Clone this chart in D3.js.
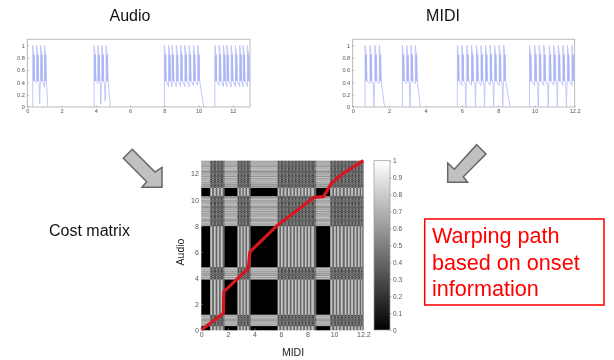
<!DOCTYPE html>
<html><head><meta charset="utf-8">
<script src="https://cdnjs.cloudflare.com/ajax/libs/d3/7.8.5/d3.min.js"></script>
<style>
html,body{margin:0;padding:0;background:#fff;overflow:hidden}
svg{display:block;font-family:"Liberation Sans",Arial,sans-serif}
.soft{filter:blur(0.6px)}
.wave{filter:blur(0.6px)}
.softer{filter:blur(0.3px)}
.axis path,.axis line{stroke:#999;stroke-width:.7}
.axis text{fill:#555}
</style></head><body>
<svg id="c" width="614" height="360"></svg>
<script>
// Note onsets per phrase; last number of each phrase is where it ends
const audioPhrases = [
  [0.32,0.55,0.78,1.0,1.2],
  [3.9,4.12,4.35,4.6,4.85],
  [8.0,8.25,8.45,8.7,8.95,9.2,9.45,9.7,9.95,10.3],
  [10.95,11.2,11.45,11.65,11.9,12.15,12.4,12.6,12.85,13.0]
];
const audioFloors = [
  [0.4,0.05,0.32,0],
  [0.38,0.05,0.1,0],
  [0.33,0.33,0.33,0.33,0.33,0.33,0.35,0.35,0],
  [0.35,0.33,0.33,0.33,0.33,0.33,0.33,0.33,0.4]
];
const midiPhrases = [
  [0.68,0.95,1.22,1.46,1.75],
  [2.73,2.97,3.2,3.44,3.72],
  [5.75,6.0,6.27,6.53,6.8,7.05,7.3,7.55,7.8,8.05,8.3,8.65],
  [9.72,10.0,10.25,10.5,10.8,11.05,11.3,11.55,11.8,12.05,12.2]
];
const midiFloors = [
  [0.38,0,0.38,0],
  [0.38,0,0.38,0],
  [0.35,0,0.35,0,0.35,0,0.35,0,0.35,0,0],
  [0.35,0,0.35,0,0.35,0,0.35,0,0.35,0.4]
];
const noteTop = 1, noteBand = 0.85, noteMid = 0.42;
const audioStripe = [0.6,0.76,0.54,0.68];
const midiStripe = [0.76,0.4];
const overlapCost = 0.18;
const warpMidi =  [0,1.66,1.7,3.54,3.66,5.67,8.48,9.2,9.8,10.7,12.2];
const warpAudio = [0,1.28,2.94,4.73,6.0,7.98,10.18,10.24,11.26,12.03,13];
const audioDomain = 13, midiDomain = 12.2;
const plotTicksX = [0,2,4,6,8,10,12];
const midiTicksX = [0,2,4,6,8,10,12.2];
const levelTicks = [0,0.2,0.4,0.6,0.8,1];
const matrixTicksY = [0,2,4,6,8,10,12];
const barTicks = [0,0.1,0.2,0.3,0.4,0.5,0.6,0.7,0.8,0.9,1];

const svg = d3.select("#c");

function waveform(phrases, floors, maxX, left, right, ticks){
  const x = d3.scaleLinear([0,maxX],[left,right]);
  const y = d3.scaleLinear([0,1.1],[107,39.2]);
  const g = svg.append("g").attr("class","wave");
  g.append("rect").attr("x",left).attr("y",39.2).attr("width",right-left).attr("height",67.8)
    .attr("fill","none").attr("stroke","#aaa").attr("stroke-width",.8);
  const line = d3.line().x(d=>x(d[0])).y(d=>y(d[1]));
  const d = maxX/222; // one pixel in data units, for the width of a note's band
  phrases.forEach((p,pi)=>{
    const outer=[[p[0],0]], band=[];
    const last=floors[pi].length-1;
    floors[pi].forEach((f,i)=>{
      const t=p[i], n=p[i+1];
      outer.push([t,noteTop],[t+d,noteBand],[t+2*d,noteMid]);
      if(i<last && f<0.3) outer.push([n-1.5*d,noteMid-0.06],[n-d,f],[n-0.5*d,noteMid-0.06]);
      else outer.push([n,f]);
      if(i<last) outer.push([n,noteMid]);
      band.push([[t+d,noteBand],[t+d,noteMid]]);
    });
    g.append("path").attr("d",line(outer)).attr("fill","none")
      .attr("stroke","#c0c7f8").attr("stroke-width",1);
    band.forEach(b=>g.append("path").attr("d",line(b)).attr("fill","none")
      .attr("stroke","#aab4f6").attr("stroke-width",1.9));
  });
  const ax=g.append("g").attr("class","axis").attr("transform","translate(0,107)")
    .call(d3.axisBottom(x).tickValues(ticks).tickFormat(v=>v).tickSize(-1.5).tickPadding(2.5));
  ax.select(".domain").remove();
  ax.selectAll("text").attr("font-size",5.6);
  const ay=g.append("g").attr("class","axis").attr("transform",`translate(${left},0)`)
    .call(d3.axisLeft(y).tickValues(levelTicks).tickFormat(v=>v).tickSize(-1.5).tickPadding(2.5));
  ay.select(".domain").remove();
  ay.selectAll("text").attr("font-size",5.6);
}
waveform(audioPhrases,audioFloors,audioDomain,27.3,250,plotTicksX);
waveform(midiPhrases,midiFloors,midiDomain,352.7,574.7,midiTicksX);

// Band profile of a track: silence is 0, each note carries stripes of the given levels
function bands(phrases, stripe, maxT, shift){
  const out=[]; let cur=0, c=0;
  phrases.forEach(p=>{
    if(p[0]>cur) out.push({a:cur,b:p[0],v:0});
    for(let i=0;i<p.length-1;i++){
      const w=(p[i+1]-p[i])/stripe.length;
      stripe.forEach((_,k)=>out.push({a:p[i]+k*w,b:p[i]+(k+1)*w,v:stripe[(k+c*shift)%stripe.length]}));
      c++;
    }
    cur=p[p.length-1];
  });
  if(cur<maxT) out.push({a:cur,b:maxT,v:0});
  return out;
}
const rows=bands(audioPhrases,audioStripe,audioDomain,1);
const cols=bands(midiPhrases,midiStripe,midiDomain,0);

const mx=d3.scaleLinear([0,midiDomain],[201.3,363.3]);
const my=d3.scaleLinear([0,audioDomain],[330,160.7]);
const gray=d3.scaleLinear([0,1],["#000","#fff"]);
const m=svg.append("g").attr("class","soft");
m.selectAll("g.r").data(rows).join("g").attr("class","r").each(function(r){
  d3.select(this).selectAll("rect").data(cols).join("rect")
    .attr("x",c=>mx(c.a)).attr("width",c=>mx(c.b)-mx(c.a)+.3)
    .attr("y",my(r.b)).attr("height",my(r.a)-my(r.b)+.3)
    .attr("fill",c=>gray(Math.abs(r.v-c.v)+(r.v&&c.v?overlapCost:0)));
});
m.append("path").datum(d3.zip(warpMidi,warpAudio))
  .attr("d",d3.line().x(d=>mx(d[0])).y(d=>my(d[1])))
  .attr("fill","none").attr("stroke","#d8161f").attr("stroke-width",3.2).attr("stroke-linejoin","round");

const ga=svg.append("g").attr("class","soft");
const xa=ga.append("g").attr("class","axis").attr("transform","translate(0,330)")
  .call(d3.axisBottom(mx).tickValues(midiTicksX).tickFormat(v=>v).tickSize(-1.5).tickPadding(2.5));
xa.select(".domain").remove(); xa.selectAll("text").attr("font-size",7);
const ya=ga.append("g").attr("class","axis").attr("transform","translate(201.3,0)")
  .call(d3.axisLeft(my).tickValues(matrixTicksY).tickFormat(v=>v).tickSize(-1.5).tickPadding(2.5));
ya.select(".domain").remove(); ya.selectAll("text").attr("font-size",7);
ga.append("text").attr("x",293).attr("y",356).attr("text-anchor","middle").attr("font-size",10.5).attr("fill","#222").text("MIDI");
ga.append("text").attr("transform","translate(184,252) rotate(-90)").attr("text-anchor","middle").attr("font-size",10.5).attr("fill","#222").text("Audio");

// Colour bar
const by=d3.scaleLinear([0,1],[330,160.7]);
const defs=svg.append("defs");
const lg=defs.append("linearGradient").attr("id","gb").attr("x1",0).attr("y1",1).attr("x2",0).attr("y2",0);
lg.append("stop").attr("offset",0).attr("stop-color","#000");
lg.append("stop").attr("offset",1).attr("stop-color","#fff");
const cb=svg.append("g").attr("class","soft");
cb.append("rect").attr("x",374).attr("y",by(1)).attr("width",16).attr("height",by(0)-by(1))
  .attr("fill","url(#gb)").attr("stroke","#999").attr("stroke-width",.7);
const bax=cb.append("g").attr("class","axis").attr("transform","translate(390,0)")
  .call(d3.axisRight(by).tickValues(barTicks).tickFormat(v=>v).tickSize(1.5).tickPadding(1.5));
bax.select(".domain").remove(); bax.selectAll("text").attr("font-size",6.6);

// Arrows
const arrows=[
  [[123.3,158.3],[132.3,149.3],[155,172],[162,167.3],[162,187.3],[142,187.3],[146.7,181.7]],
  [[476.7,144.7],[486,154],[463.3,176.7],[467.7,182.3],[447.7,182.3],[447.7,163],[454.3,169.3]]
];
svg.append("g").attr("class","softer").selectAll("polygon").data(arrows).join("polygon")
  .attr("points",d=>d.join(" ")).attr("fill","#c0c0c0").attr("stroke","#666").attr("stroke-width",1.5);

// Labels
const lab=svg.append("g").attr("class","softer").attr("font-size",16).attr("fill","#111");
lab.append("text").attr("x",130).attr("y",21).attr("text-anchor","middle").text("Audio");
lab.append("text").attr("x",443).attr("y",21).attr("text-anchor","middle").text("MIDI");
lab.append("text").attr("x",49).attr("y",236).text("Cost matrix");

const note=svg.append("g").attr("class","softer");
note.append("rect").attr("x",424.7).attr("y",219).attr("width",179.3).attr("height",86)
  .attr("fill","#fff").attr("stroke","#f00").attr("stroke-width",1.5);
const noteLines=["Warping path","based on onset","information"];
note.selectAll("text").data(noteLines).join("text")
  .attr("x",432).attr("y",(d,i)=>243+i*26.5).attr("font-size",21.6).attr("fill","#f00").text(d=>d);
</script>
</body></html>
